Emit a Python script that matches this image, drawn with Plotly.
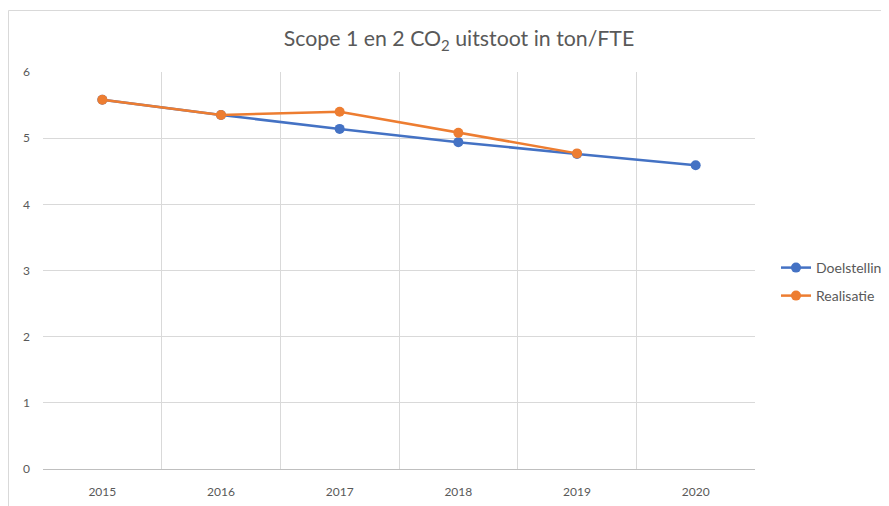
import plotly.graph_objects as go

years = ["2015", "2016", "2017", "2018", "2019", "2020"]
doelstelling = [5.58, 5.35, 5.14, 4.94, 4.76, 4.59]
realisatie_years = ["2015", "2016", "2017", "2018", "2019"]
realisatie = [5.58, 5.35, 5.40, 5.08, 4.77]

BLUE = "#4472C4"
ORANGE = "#ED7D31"
GRID = "#D9D9D9"
TXT = "#595959"
FONT = "Lato, Liberation Sans, sans-serif"

# page has an 8px body margin, so figure coords = page coords - 8
OFF = 8
W, H = 889, 506
L, R, T, B = 43 - OFF, 889 - (755 - OFF), 72 - OFF, 506 - (469 - OFF)
PW, PH = W - L - R, H - T - B

def px_x(x):
    return (x - OFF - L) / PW

def px_y(y):
    return (H - B - (y - OFF)) / PH

fig = go.Figure()
fig.add_trace(go.Scatter(x=years, y=doelstelling, mode="lines+markers", name="Doelstelling",
                         line=dict(color=BLUE, width=2.5), marker=dict(size=10, color=BLUE),
                         legend="legend", showlegend=True))
fig.add_trace(go.Scatter(x=realisatie_years, y=realisatie, mode="lines+markers", name="Realisatie",
                         line=dict(color=ORANGE, width=2.5), marker=dict(size=10, color=ORANGE),
                         legend="legend2", showlegend=True))

legend_style = dict(xanchor="left", yanchor="top",
                    font=dict(size=14, color=TXT, family=FONT), bgcolor="rgba(0,0,0,0)",
                    itemwidth=30)

fig.update_layout(
    width=W, height=H,
    showlegend=True,
    margin=dict(l=L, r=R, t=T, b=B, autoexpand=False),
    paper_bgcolor="white", plot_bgcolor="white",
    font=dict(family=FONT, color=TXT, size=12),
    title=dict(text="Scope 1 en 2 CO<sub>2</sub> uitstoot in ton/FTE",
               x=(459 - OFF) / W, xanchor="center",
               y=1 - (39 - OFF) / H, yanchor="middle",
               font=dict(family=FONT, size=21.3, color=TXT)),
    xaxis=dict(type="category", tickson="boundaries", showgrid=True, gridcolor=GRID, gridwidth=1,
               showline=True, linecolor="#BFBFBF", linewidth=1, ticks="", mirror=False,
               ticklabelstandoff=12, tickfont=dict(size=12, color=TXT),
               range=[-0.5, 5.5], zeroline=False),
    yaxis=dict(range=[0, 6], dtick=1, showgrid=True, gridcolor=GRID, gridwidth=1,
               zeroline=False, showline=False, ticks="", ticklabelstandoff=12,
               tickfont=dict(size=12, color=TXT)),
    legend=dict(x=px_x(776), y=px_y(252), visible=True, **legend_style),
    legend2=dict(x=px_x(776), y=px_y(280), visible=True, **legend_style),
    shapes=[dict(type="rect", xref="paper", yref="paper",
                 x0=px_x(8.5), x1=px_x(W + 60), y0=px_y(H + 60), y1=px_y(10.5),
                 line=dict(color="#D9D9D9", width=1), fillcolor="rgba(0,0,0,0)", layer="below")],
)

fig.write_html("out.html")
